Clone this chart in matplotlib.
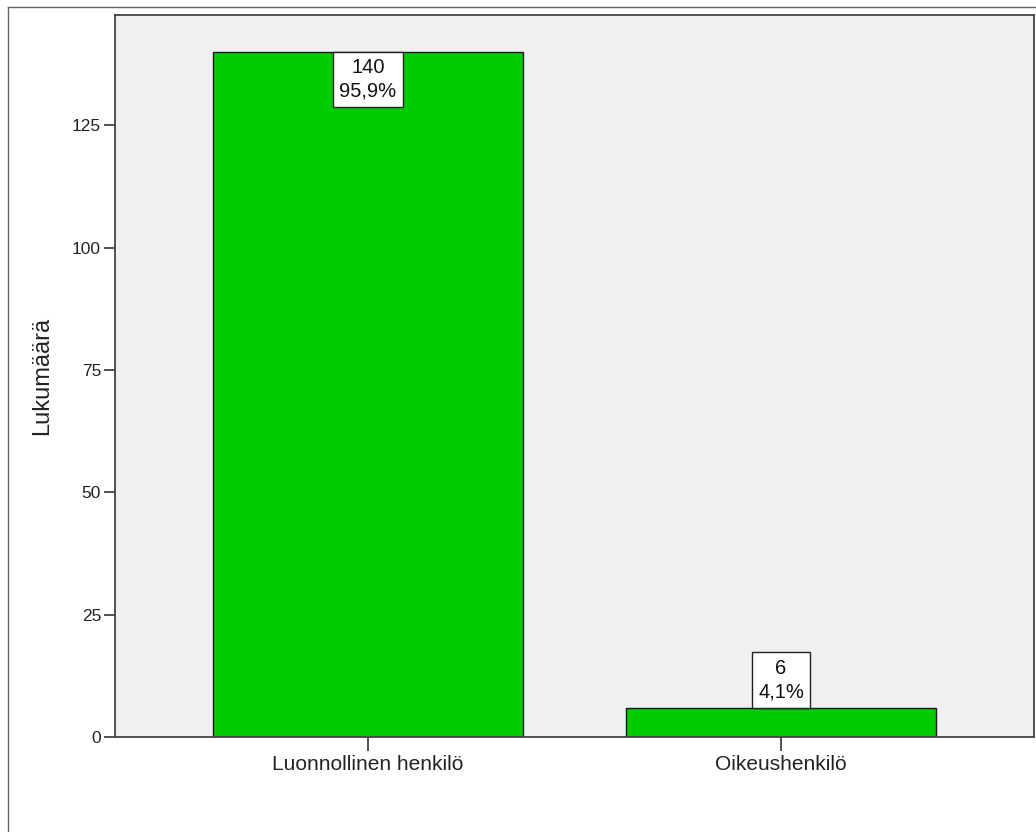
import matplotlib
matplotlib.use("Agg")
import matplotlib.pyplot as plt
from matplotlib.lines import Line2D

# data
categories = ["Luonnollinen henkilö", "Oikeushenkilö"]
counts = [140, 6]
percent_labels = ["95,9%", "4,1%"]
y_ticks = [0, 25, 50, 75, 100, 125]

plt.rcParams['font.family'] = ['Liberation Sans', 'DejaVu Sans']

fig = plt.figure(figsize=(10.36, 8.32), dpi=100)
fig.patch.set_facecolor('white')

# outer frame (cut off at right and bottom like the source)
W, H = 1036, 832
fig.add_artist(Line2D([8 / W, 8 / W], [0, 1 - 7 / H], color='#666666', lw=1.0))
fig.add_artist(Line2D([8 / W, 1], [1 - 7 / H, 1 - 7 / H], color='#666666', lw=1.0))

ax = fig.add_axes([115 / W, 95 / H, 919 / W, 722 / H])
ax.set_facecolor('#F0F0F0')

x = list(range(len(categories)))
ax.bar(x, counts, width=0.75, color='#00CC00', edgecolor='#1a1a1a', linewidth=1.0, zorder=2)

ax.set_xlim(-0.612, 1.612)
ax.set_ylim(0, 147.5)
ax.set_xticks(x)
ax.set_xticklabels(categories, fontsize=15, color='#222222')
ax.set_yticks(y_ticks)
ax.set_yticklabels([str(t) for t in y_ticks], fontsize=12.5, color='#222222')
ax.tick_params(axis='y', length=8, width=1.2, pad=2, color='#333333')
ax.tick_params(axis='x', length=10, width=1.2, pad=3, color='#333333')

for side in ['left', 'bottom', 'top', 'right']:
    ax.spines[side].set_color('#444444')
    ax.spines[side].set_linewidth(1.3)

ax.set_ylabel("Lukumäärä", fontsize=17, color='#222222')
ax.yaxis.set_label_coords(-0.0675, 0.5)

# value boxes: inside the bar top if it fits, otherwise above it
fs = 14.5
pad = 0.32
for xi, c, p in zip(x, counts, percent_labels):
    label = f"{c}\n{p}"
    box = dict(boxstyle=f'square,pad={pad}', fc='white', ec='#222222', lw=1.0)
    if c > 20:
        ax.annotate(label, (xi, c), xytext=(0, -pad * fs), textcoords='offset points',
                    ha='center', va='top', fontsize=fs, linespacing=1.3,
                    color='#111111', bbox=box, zorder=3)
    else:
        ax.annotate(label, (xi, c), xytext=(0, pad * fs), textcoords='offset points',
                    ha='center', va='bottom', fontsize=fs, linespacing=1.3,
                    color='#111111', bbox=box, zorder=3)

fig.savefig("out.png", dpi=100)
